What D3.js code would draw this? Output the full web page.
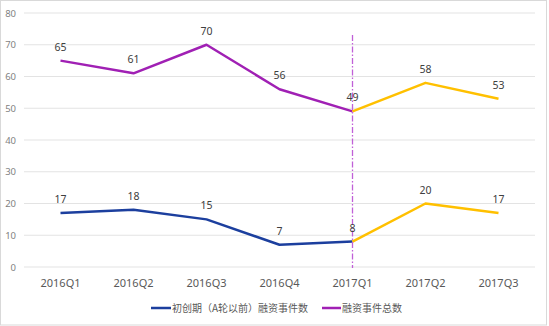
<!DOCTYPE html>
<html><head><meta charset="utf-8">
<script src="https://cdn.jsdelivr.net/npm/d3@7"></script>
<style>body{margin:0;background:#fff}svg{display:block}</style>
</head><body>
<script>
const categories = ["2016Q1","2016Q2","2016Q3","2016Q4","2017Q1","2017Q2","2017Q3"];
const totalEvents = [65,61,70,56,49,58,53];
const earlyEvents = [17,18,15,7,8,20,17];
const yTicks = [0,10,20,30,40,50,60,70,80];
const seriesNames = ["初创期（A轮以前）融资事件数","融资事件总数"];
const splitCategory = "2017Q1";

const W=549,H=326;
const svg=d3.select("body").append("svg").attr("width",W).attr("height",H);
svg.append("rect").attr("x",0.5).attr("y",0.5).attr("width",546).attr("height",324.5).attr("fill","#fff").attr("stroke","#d9d9d9");
const font="'Noto Sans','Noto Sans CJK SC',sans-serif";
const x=d3.scaleBand().domain(categories).range([24,535]);
const y=d3.scaleLinear().domain([0,80]).range([267,13]);
const cx=c=>x(c)+x.bandwidth()/2;

// grid
svg.append("g").selectAll("line").data(yTicks).join("line")
 .attr("x1",24).attr("x2",535).attr("y1",d=>y(d)).attr("y2",d=>y(d))
 .attr("stroke","#e3e3e3").attr("stroke-width",1);
// y labels
svg.append("g").selectAll("text").data(yTicks).join("text")
 .attr("x",16).attr("y",d=>y(d)+3.5).attr("text-anchor","end")
 .attr("font-family",font).attr("font-size",9.5).attr("fill","#7f7f7f").text(d=>d);
// x labels
svg.append("g").selectAll("text").data(categories).join("text")
 .attr("x",d=>cx(d)).attr("y",287).attr("text-anchor","middle")
 .attr("font-family",font).attr("font-size",11).attr("fill","#595959").text(d=>d);

const si=categories.indexOf(splitCategory);
const line=d3.line().x(d=>cx(d.c)).y(d=>y(d.v));
function drawSeries(vals,col1,col2){
  const pts=vals.map((v,i)=>({c:categories[i],v}));
  svg.append("path").attr("d",line(pts.slice(0,si+1))).attr("fill","none").attr("stroke",col1).attr("stroke-width",2.5).attr("stroke-linejoin","round");
  svg.append("path").attr("d",line(pts.slice(si))).attr("fill","none").attr("stroke",col2).attr("stroke-width",2.5).attr("stroke-linejoin","round");
}
drawSeries(totalEvents,"#a020b4","#ffc000");
drawSeries(earlyEvents,"#1c3f9e","#ffc000");

// split line
svg.append("line").attr("x1",cx(splitCategory)).attr("x2",cx(splitCategory)).attr("y1",35).attr("y2",268)
 .attr("stroke","#c060d8").attr("stroke-width",1.3).attr("stroke-dasharray","6,2,1.5,2");

function labels(vals){
  svg.append("g").selectAll("text").data(vals).join("text")
   .attr("x",(d,i)=>cx(categories[i])).attr("y",d=>y(d)-10).attr("text-anchor","middle")
   .attr("font-family",font).attr("font-size",10.5).attr("fill","#404040").text(d=>d);
}
labels(totalEvents);labels(earlyEvents);

// legend
const lg=svg.append("g");
lg.append("line").attr("x1",151).attr("x2",171).attr("y1",308).attr("y2",308).attr("stroke","#1c3f9e").attr("stroke-width",2.5);
lg.append("text").attr("x",172).attr("y",311.5).attr("font-family","'Noto Sans CJK SC',sans-serif").attr("font-size",10).attr("fill","#595959").text(seriesNames[0]);
lg.append("line").attr("x1",322).attr("x2",341).attr("y1",308).attr("y2",308).attr("stroke","#a020b4").attr("stroke-width",2.5);
lg.append("text").attr("x",342).attr("y",311.5).attr("font-family","'Noto Sans CJK SC',sans-serif").attr("font-size",10).attr("fill","#595959").text(seriesNames[1]);
</script>
</body></html>
